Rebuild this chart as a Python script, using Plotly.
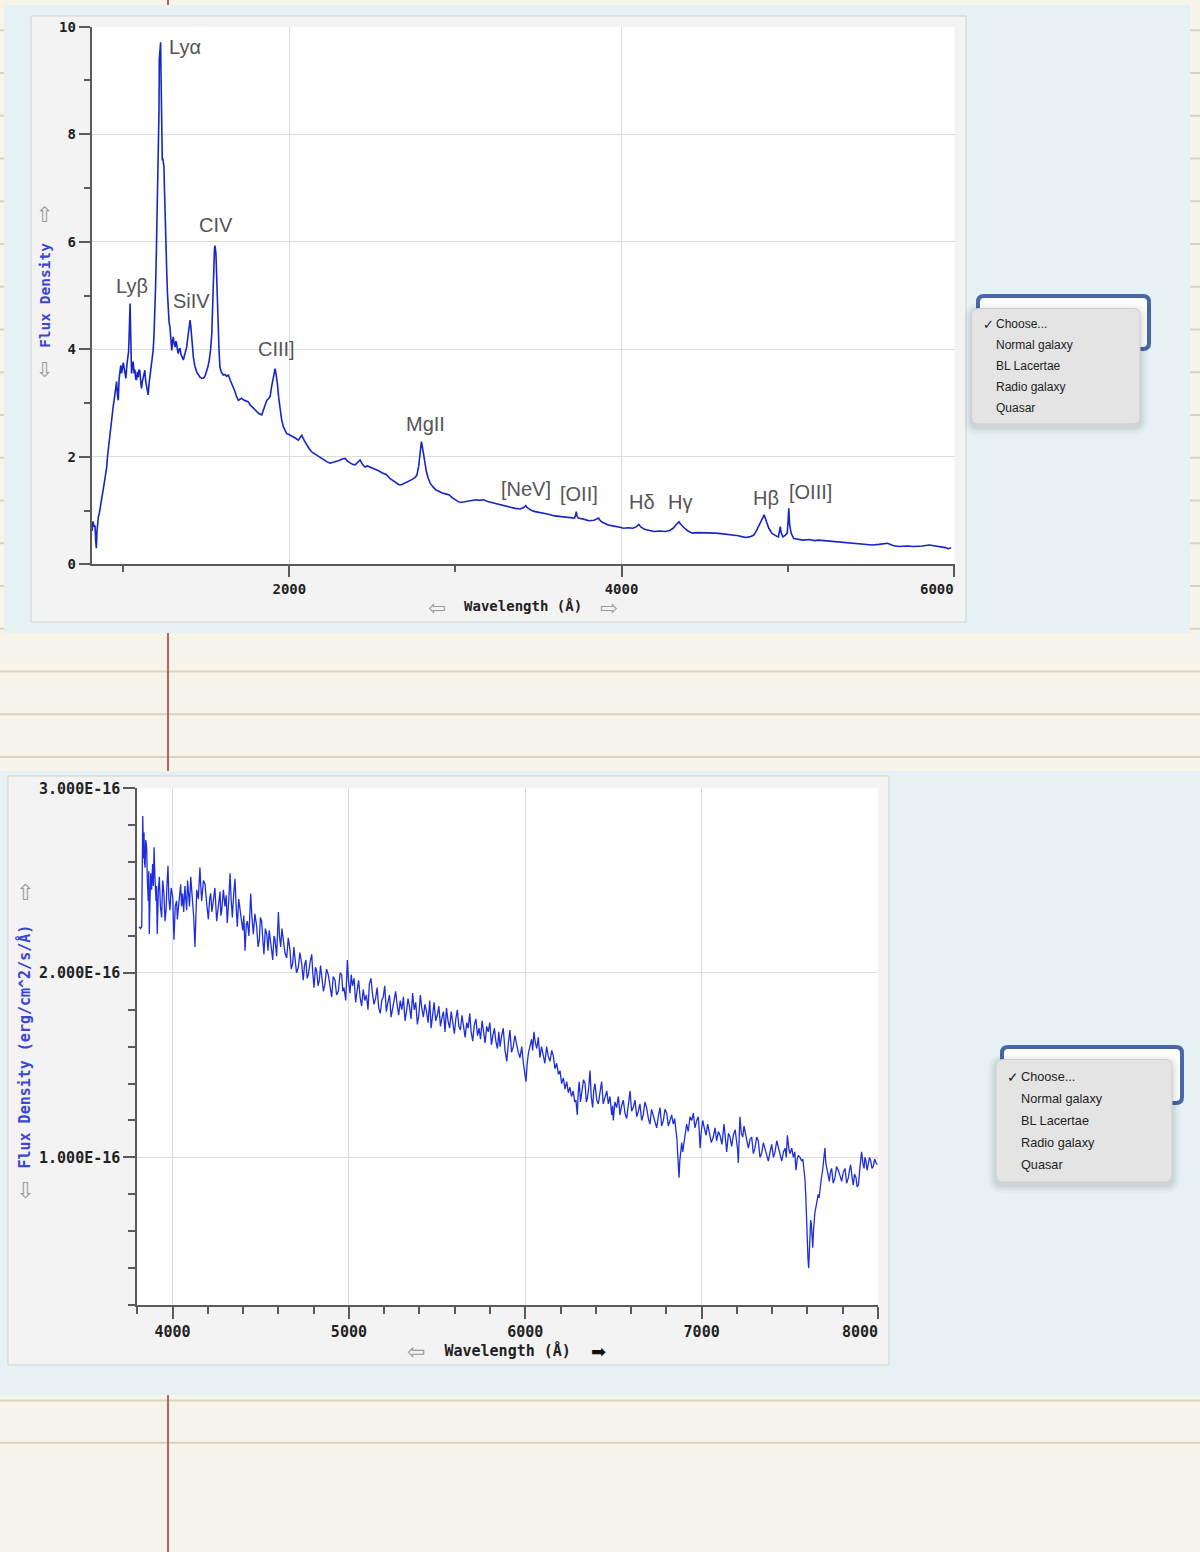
import plotly.graph_objects as go

W, H = 1200, 1552

# ---------------- data: quasar spectrum (rest frame) ----------------
wave1 = [
    812, 818, 824, 830, 834, 838, 842, 846, 850, 856,
    862, 868, 874, 880, 886, 890, 895, 900, 905, 910,
    915, 920, 925, 930, 935, 940, 945, 950, 955, 960,
    965, 970, 975, 980, 985, 990, 995, 1000, 1008, 1016,
    1022, 1028, 1032, 1036, 1039, 1041, 1044, 1047, 1050, 1055,
    1060, 1065, 1070, 1075, 1080, 1085, 1090, 1095, 1100, 1105,
    1110, 1115, 1120, 1125, 1130, 1135, 1140, 1145, 1150, 1155,
    1160, 1165, 1170, 1175, 1180, 1185, 1190, 1195, 1200, 1205,
    1209, 1212, 1215, 1217, 1219, 1222, 1225, 1227, 1229, 1231,
    1233, 1235, 1238, 1241, 1245, 1248, 1251, 1256, 1261, 1266,
    1271, 1276, 1281, 1286, 1292, 1297, 1301, 1306, 1312, 1317,
    1322, 1327, 1331, 1336, 1342, 1348, 1355, 1362, 1368, 1374,
    1382, 1388, 1394, 1399, 1402, 1406, 1412, 1417, 1422, 1430,
    1442, 1452, 1462, 1472, 1482, 1492, 1502, 1510, 1518, 1526,
    1533, 1538, 1542, 1546, 1549, 1552, 1555, 1558, 1562, 1566,
    1572, 1577, 1582, 1590, 1602, 1612, 1622, 1633, 1645, 1655,
    1663, 1672, 1682, 1693, 1703, 1713, 1723, 1733, 1743, 1753,
    1765, 1777, 1790, 1804, 1818, 1834, 1843, 1853, 1864, 1874,
    1884, 1893, 1900, 1906, 1910, 1914, 1918, 1923, 1928, 1936,
    1944, 1954, 1964, 1974, 1984, 1995, 2008, 2024, 2040, 2054,
    2064, 2075, 2090, 2105, 2120, 2135, 2150, 2165, 2185, 2205,
    2225, 2245, 2265, 2286, 2300, 2318, 2336, 2350, 2366, 2380,
    2396, 2410, 2426, 2440, 2456, 2470, 2486, 2500, 2520, 2537,
    2560, 2583, 2605, 2625, 2641, 2660, 2675, 2690, 2705, 2721,
    2740, 2756, 2768, 2779, 2787, 2791, 2795, 2799, 2804, 2809,
    2816, 2825, 2836, 2848, 2865, 2883, 2900, 2917, 2940, 2963,
    2980, 2998, 3015, 3032, 3055, 3078, 3100, 3124, 3148, 3171,
    3194, 3217, 3245, 3274, 3300, 3332, 3360, 3389, 3408, 3418,
    3424, 3430, 3440, 3459, 3480, 3500, 3528, 3560, 3597, 3630,
    3666, 3695, 3717, 3724, 3728, 3732, 3740, 3770, 3804, 3835,
    3855, 3862, 3868, 3880, 3900, 3919, 3940, 3965, 3990, 4012,
    4040, 4069, 4090, 4104, 4118, 4138, 4165, 4196, 4230, 4265,
    4290, 4311, 4330, 4340, 4346, 4355, 4368, 4380, 4400, 4426,
    4460, 4495, 4530, 4564, 4600, 4634, 4670, 4703, 4730, 4749,
    4770, 4795, 4812, 4829, 4845, 4859, 4872, 4887, 4905, 4922,
    4935, 4945, 4951, 4956, 4962, 4972, 4985, 4998, 5003, 5007,
    5012, 5021, 5037, 5060, 5094, 5130, 5160, 5187, 5220, 5260,
    5302, 5340, 5380, 5417, 5460, 5509, 5550, 5601, 5635, 5670,
    5720, 5762, 5810, 5854, 5890, 5924, 5950, 5970, 5985,
]
flux1 = [
    0.62, 0.80, 0.70, 0.72, 0.45, 0.30, 0.62, 0.80, 0.88, 0.95,
    1.05, 1.15, 1.25, 1.35, 1.52, 1.60, 1.68, 1.80, 2.00, 2.15,
    2.30, 2.45, 2.55, 2.72, 2.85, 2.95, 3.05, 3.18, 3.30, 3.40,
    3.15, 3.05, 3.45, 3.62, 3.70, 3.55, 3.72, 3.75, 3.60, 3.46,
    3.72, 3.90, 3.95, 4.30, 4.80, 4.85, 4.40, 3.80, 3.55, 3.70,
    3.77, 3.55, 3.62, 3.45, 3.43, 3.58, 3.48, 3.62, 3.60, 3.40,
    3.27, 3.40, 3.50, 3.55, 3.61, 3.40, 3.30, 3.20, 3.15, 3.35,
    3.49, 3.60, 3.75, 3.85, 3.98, 4.25, 4.60, 5.20, 5.90, 6.80,
    7.40, 7.50, 8.40, 9.40, 9.50, 9.60, 9.71, 9.20, 8.60, 8.30,
    7.90, 7.51, 7.55, 7.45, 7.40, 7.00, 6.52, 6.00, 5.53, 5.05,
    4.60, 4.50, 4.42, 4.20, 3.98, 4.15, 4.23, 4.12, 4.04, 4.15,
    4.10, 3.98, 3.92, 4.00, 4.01, 3.90, 3.84, 3.80, 3.88, 3.95,
    4.04, 4.20, 4.40, 4.52, 4.54, 4.45, 4.29, 4.05, 3.86, 3.70,
    3.58, 3.52, 3.48, 3.46, 3.46, 3.50, 3.58, 3.68, 3.80, 4.00,
    4.29, 4.80, 5.53, 5.75, 5.85, 5.93, 5.80, 5.78, 5.40, 4.91,
    4.29, 3.95, 3.67, 3.58, 3.52, 3.53, 3.50, 3.52, 3.42, 3.35,
    3.30, 3.22, 3.12, 3.05, 3.07, 3.09, 3.06, 3.05, 3.03, 3.02,
    2.96, 2.92, 2.88, 2.84, 2.80, 2.78, 2.87, 2.97, 3.05, 3.08,
    3.12, 3.30, 3.43, 3.55, 3.62, 3.64, 3.58, 3.48, 3.36, 3.10,
    2.87, 2.68, 2.56, 2.49, 2.43, 2.42, 2.40, 2.37, 2.34, 2.31,
    2.35, 2.40, 2.30, 2.22, 2.15, 2.09, 2.06, 2.03, 1.98, 1.94,
    1.91, 1.88, 1.90, 1.91, 1.93, 1.96, 1.97, 1.92, 1.88, 1.86,
    1.85, 1.90, 1.94, 1.86, 1.81, 1.83, 1.81, 1.79, 1.76, 1.74,
    1.70, 1.67, 1.60, 1.55, 1.51, 1.48, 1.48, 1.50, 1.52, 1.54,
    1.58, 1.61, 1.66, 1.83, 2.05, 2.20, 2.28, 2.22, 2.12, 2.02,
    1.85, 1.73, 1.60, 1.51, 1.44, 1.38, 1.36, 1.33, 1.31, 1.29,
    1.24, 1.20, 1.17, 1.15, 1.16, 1.17, 1.19, 1.20, 1.19, 1.20,
    1.17, 1.15, 1.13, 1.11, 1.09, 1.06, 1.04, 1.03, 1.05, 1.08,
    1.09, 1.06, 1.04, 1.00, 0.98, 0.97, 0.95, 0.93, 0.90, 0.89,
    0.88, 0.87, 0.86, 0.92, 0.98, 0.90, 0.86, 0.84, 0.81, 0.82,
    0.84, 0.86, 0.83, 0.79, 0.76, 0.73, 0.72, 0.71, 0.69, 0.67,
    0.68, 0.67, 0.70, 0.74, 0.69, 0.65, 0.63, 0.61, 0.62, 0.61,
    0.63, 0.67, 0.74, 0.78, 0.79, 0.75, 0.70, 0.67, 0.62, 0.58,
    0.59, 0.59, 0.58, 0.58, 0.57, 0.56, 0.55, 0.53, 0.51, 0.50,
    0.51, 0.54, 0.62, 0.73, 0.85, 0.92, 0.80, 0.67, 0.58, 0.54,
    0.52, 0.51, 0.60, 0.70, 0.58, 0.51, 0.54, 0.58, 0.80, 1.04,
    0.75, 0.58, 0.48, 0.47, 0.45, 0.46, 0.44, 0.45, 0.44, 0.43,
    0.42, 0.41, 0.40, 0.39, 0.38, 0.36, 0.37, 0.39, 0.35, 0.33,
    0.34, 0.33, 0.34, 0.36, 0.34, 0.33, 0.31, 0.29, 0.31,
]

# emission line labels (label anchor in data units)
line_names = ["Lyα", "Lyβ", "SiIV", "CIV", "CIII]", "MgII",
              "[NeV]", "[OII]", "Hδ", "Hγ", "Hβ", "[OIII]"]
line_label_wave = [1372, 1052, 1408, 1558, 1920, 2818,
                   3423, 3745, 4125, 4350, 4868, 5138]
line_label_flux = [9.62, 5.17, 4.89, 6.31, 4.00, 2.61,
                   1.40, 1.30, 1.15, 1.16, 1.24, 1.35]

# ---------------- data: observed-frame spectrum ----------------
FLUX2_UNIT = 1e-16
wave2 = [
    3811, 3818, 3825, 3828, 3831, 3835, 3838, 3841, 3844, 3848,
    3853, 3857, 3862, 3865, 3868, 3872, 3876, 3881, 3887, 3891,
    3895, 3900, 3906, 3909, 3913, 3919, 3925, 3931, 3938, 3944,
    3951, 3957, 3963, 3968, 3974, 3979, 3985, 3992, 4001, 4004,
    4008, 4015, 4023, 4027, 4032, 4039, 4046, 4051, 4057, 4063,
    4070, 4075, 4080, 4085, 4089, 4096, 4103, 4108, 4114, 4120,
    4127, 4132, 4137, 4146, 4155, 4160, 4165, 4175, 4184, 4194,
    4203, 4210, 4216, 4223, 4231, 4240, 4250, 4260, 4269, 4274,
    4279, 4288, 4297, 4304, 4310, 4318, 4326, 4332, 4339, 4346,
    4354, 4360, 4367, 4375, 4382, 4390, 4398, 4404, 4411, 4418,
    4424, 4433, 4443, 4450, 4458, 4467, 4477, 4485, 4492, 4498,
    4505, 4511, 4518, 4526, 4534, 4541, 4548, 4558, 4568, 4575,
    4581, 4590, 4600, 4606, 4613, 4620, 4628, 4637, 4647, 4656,
    4666, 4673, 4681, 4688, 4694, 4703, 4713, 4722, 4732, 4736,
    4741, 4748, 4756, 4763, 4770, 4780, 4789, 4795, 4802, 4810,
    4817, 4825, 4832, 4839, 4846, 4855, 4864, 4873, 4883, 4892,
    4902, 4911, 4921, 4930, 4940, 4950, 4959, 4965, 4972, 4982,
    4991, 4998, 5006, 5013, 5020, 5029, 5038, 5046, 5055, 5063,
    5072, 5081, 5090, 5099, 5108, 5116, 5125, 5133, 5142, 5151,
    5160, 5169, 5178, 5186, 5195, 5203, 5212, 5221, 5230, 5239,
    5248, 5256, 5265, 5273, 5282, 5291, 5300, 5309, 5318, 5326,
    5335, 5343, 5352, 5361, 5370, 5379, 5388, 5396, 5405, 5413,
    5422, 5431, 5440, 5449, 5458, 5466, 5475, 5483, 5492, 5501,
    5510, 5519, 5528, 5536, 5545, 5553, 5562, 5571, 5580, 5589,
    5598, 5606, 5615, 5623, 5632, 5641, 5650, 5659, 5668, 5676,
    5685, 5693, 5702, 5711, 5720, 5729, 5738, 5746, 5755, 5763,
    5772, 5781, 5790, 5799, 5808, 5816, 5825, 5833, 5842, 5850,
    5857, 5866, 5875, 5885, 5895, 5904, 5913, 5922, 5932, 5941,
    5951, 5960, 5970, 5980, 5989, 5996, 6004, 6010, 6017, 6026,
    6036, 6042, 6049, 6057, 6065, 6074, 6083, 6092, 6102, 6111,
    6121, 6130, 6140, 6150, 6159, 6168, 6178, 6188, 6197, 6206,
    6216, 6225, 6235, 6244, 6253, 6262, 6272, 6280, 6287, 6291,
    6295, 6300, 6306, 6313, 6320, 6330, 6339, 6346, 6352, 6360,
    6367, 6374, 6382, 6388, 6395, 6405, 6414, 6424, 6433, 6442,
    6452, 6462, 6471, 6480, 6490, 6495, 6499, 6508, 6518, 6528,
    6537, 6546, 6556, 6565, 6575, 6584, 6594, 6603, 6612, 6622,
    6632, 6641, 6650, 6660, 6669, 6678, 6688, 6698, 6707, 6716,
    6726, 6736, 6745, 6754, 6764, 6773, 6783, 6792, 6802, 6811,
    6820, 6830, 6839, 6847, 6855, 6860, 6864, 6868, 6872, 6876,
    6881, 6887, 6893, 6900, 6906, 6915, 6924, 6934, 6944, 6953,
    6962, 6972, 6981, 6986, 6991, 6998, 7006, 7015, 7025, 7034,
    7043, 7055, 7066, 7076, 7085, 7095, 7104, 7115, 7127, 7135,
    7142, 7152, 7161, 7170, 7180, 7190, 7199, 7204, 7208, 7213,
    7217, 7225, 7233, 7240, 7246, 7256, 7265, 7275, 7284, 7293,
    7302, 7312, 7321, 7331, 7340, 7350, 7359, 7369, 7378, 7388,
    7397, 7407, 7416, 7426, 7435, 7445, 7454, 7464, 7473, 7480,
    7486, 7494, 7501, 7511, 7520, 7528, 7535, 7542, 7548, 7558,
    7567, 7574, 7580, 7586, 7591, 7595, 7599, 7603, 7607, 7611,
    7614, 7618, 7622, 7626, 7630, 7634, 7637, 7642, 7648, 7655,
    7661, 7666, 7671, 7678, 7686, 7692, 7699, 7704, 7709, 7716,
    7724, 7730, 7737, 7746, 7756, 7765, 7775, 7785, 7794, 7803,
    7813, 7822, 7832, 7838, 7845, 7852, 7860, 7867, 7875, 7882,
    7889, 7898, 7907, 7914, 7921, 7926, 7932, 7938, 7945, 7952,
    7959, 7966, 7973, 7981, 7989, 7996,
]
flux2 = [
    2.25, 2.24, 2.25, 2.50, 2.85, 2.62, 2.76, 2.60, 2.57, 2.72,
    2.68, 2.50, 2.39, 2.55, 2.21, 2.40, 2.54, 2.45, 2.59, 2.47,
    2.68, 2.52, 2.39, 2.47, 2.21, 2.44, 2.52, 2.36, 2.30, 2.50,
    2.43, 2.28, 2.34, 2.47, 2.58, 2.40, 2.34, 2.46, 2.41, 2.30,
    2.18, 2.36, 2.39, 2.29, 2.34, 2.45, 2.48, 2.36, 2.43, 2.33,
    2.47, 2.40, 2.34, 2.50, 2.44, 2.36, 2.52, 2.45, 2.39, 2.30,
    2.14, 2.33, 2.45, 2.40, 2.57, 2.47, 2.39, 2.50, 2.48, 2.37,
    2.29, 2.40, 2.43, 2.33, 2.39, 2.46, 2.28, 2.38, 2.44, 2.31,
    2.34, 2.45, 2.36, 2.42, 2.27, 2.38, 2.54, 2.40, 2.30, 2.42,
    2.51, 2.37, 2.25, 2.40, 2.34, 2.27, 2.23, 2.31, 2.12, 2.26,
    2.28, 2.20, 2.43, 2.30, 2.21, 2.32, 2.25, 2.14, 2.18, 2.30,
    2.28, 2.19, 2.10, 2.24, 2.21, 2.12, 2.23, 2.15, 2.07, 2.20,
    2.18, 2.09, 2.33, 2.20, 2.14, 2.24, 2.18, 2.11, 2.08, 2.19,
    2.12, 2.02, 2.05, 2.14, 2.08, 2.00, 2.03, 2.11, 2.05, 2.00,
    1.96, 2.04, 2.07, 1.97, 1.99, 2.06, 2.10, 2.00, 1.92, 2.03,
    2.01, 1.93, 1.96, 2.04, 1.99, 1.90, 1.94, 2.02, 1.99, 1.92,
    1.87, 1.98, 1.96, 1.88, 1.90, 2.00, 1.99, 1.90, 1.92, 1.85,
    2.07, 1.95, 1.89, 1.99, 1.93, 1.97, 1.84, 1.90, 1.96, 1.87,
    1.82, 1.91, 1.85, 1.88, 1.80, 1.94, 1.97, 1.89, 1.83, 1.86,
    1.92, 1.81, 1.78, 1.85, 1.87, 1.93, 1.79, 1.84, 1.88, 1.76,
    1.81, 1.86, 1.90, 1.83, 1.77, 1.85, 1.80, 1.87, 1.74, 1.79,
    1.86, 1.82, 1.75, 1.89, 1.80, 1.84, 1.72, 1.77, 1.88, 1.81,
    1.76, 1.83, 1.79, 1.73, 1.85, 1.70, 1.78, 1.84, 1.74, 1.77,
    1.82, 1.71, 1.76, 1.79, 1.68, 1.81, 1.74, 1.70, 1.79, 1.73,
    1.67, 1.75, 1.80, 1.71, 1.69, 1.77, 1.72, 1.65, 1.73, 1.70,
    1.78, 1.68, 1.63, 1.72, 1.75, 1.66, 1.70, 1.64, 1.74, 1.67,
    1.62, 1.71, 1.68, 1.73, 1.61, 1.66, 1.70, 1.63, 1.59, 1.68,
    1.60, 1.66, 1.70, 1.58, 1.52, 1.62, 1.69, 1.57, 1.60, 1.66,
    1.61, 1.57, 1.54, 1.60, 1.51, 1.47, 1.41, 1.50, 1.56, 1.60,
    1.64, 1.58, 1.68, 1.62, 1.59, 1.65, 1.54, 1.60, 1.56, 1.51,
    1.60, 1.55, 1.52, 1.58, 1.55, 1.48, 1.51, 1.45, 1.47, 1.40,
    1.43, 1.37, 1.41, 1.35, 1.38, 1.33, 1.36, 1.30, 1.31, 1.26,
    1.23, 1.35, 1.41, 1.30, 1.34, 1.42, 1.40, 1.30, 1.32, 1.38,
    1.47, 1.33, 1.27, 1.36, 1.40, 1.31, 1.29, 1.37, 1.41, 1.29,
    1.32, 1.36, 1.29, 1.33, 1.23, 1.28, 1.20, 1.30, 1.27, 1.33,
    1.23, 1.28, 1.31, 1.24, 1.21, 1.30, 1.36, 1.25, 1.27, 1.31,
    1.22, 1.25, 1.29, 1.20, 1.23, 1.30, 1.27, 1.21, 1.18, 1.26,
    1.23, 1.19, 1.16, 1.22, 1.27, 1.17, 1.20, 1.26, 1.24, 1.17,
    1.20, 1.23, 1.18, 1.21, 1.14, 1.10, 1.02, 0.95, 0.89, 0.98,
    1.05, 1.08, 1.03, 1.10, 1.12, 1.18, 1.14, 1.22, 1.20, 1.24,
    1.16, 1.20, 1.22, 1.15, 1.05, 1.14, 1.20, 1.16, 1.12, 1.18,
    1.14, 1.08, 1.11, 1.16, 1.09, 1.14, 1.12, 1.07, 1.18, 1.10,
    1.03, 1.13, 1.11, 1.06, 1.12, 1.15, 1.09, 1.04, 0.97, 1.10,
    1.22, 1.13, 1.11, 1.17, 1.14, 1.09, 1.05, 1.10, 1.11, 1.02,
    1.05, 1.11, 1.09, 1.00, 1.02, 1.08, 1.05, 1.01, 0.98, 1.03,
    1.07, 1.00, 1.03, 1.09, 1.05, 1.01, 0.98, 1.03, 1.05, 1.00,
    1.12, 1.05, 1.02, 1.05, 1.00, 1.03, 0.93, 0.99, 1.01, 1.00,
    0.98, 0.99, 0.94, 0.88, 0.78, 0.62, 0.51, 0.45, 0.40, 0.50,
    0.58, 0.66, 0.64, 0.58, 0.51, 0.60, 0.65, 0.70, 0.73, 0.76,
    0.80, 0.78, 0.83, 0.88, 0.93, 0.98, 1.05, 0.97, 0.94, 0.90,
    0.87, 0.92, 0.94, 0.86, 0.89, 0.95, 0.93, 0.90, 0.87, 0.92,
    0.94, 0.86, 0.89, 0.93, 0.96, 0.90, 0.85, 0.91, 0.89, 0.84,
    0.85, 0.95, 1.03, 0.97, 0.94, 1.00, 0.98, 0.93, 0.96, 1.00,
    0.98, 0.94, 0.95, 0.99, 0.97, 0.96,
]

# ---------------- axis ticks ----------------
x1_tickvals = [2000, 4000, 6000]
x1_ticktext = ["2000", "4000", "6000"]
x1_minor = [1000, 3000, 5000]
y1_tickvals = [0, 2, 4, 6, 8, 10]
y1_ticktext = ["0", "2", "4", "6", "8", "10"]
y1_minor = [1, 3, 5, 7, 9]

x2_tickvals = [4000, 5000, 6000, 7000, 8000]
x2_ticktext = ["4000", "5000", "6000", "7000", "8000"]
x2_minor = [3800, 4200, 4400, 4600, 4800, 5200, 5400, 5600, 5800,
            6200, 6400, 6600, 6800, 7200, 7400, 7600, 7800]
y2_tickvals = [1e-16, 2e-16, 3e-16]
y2_ticktext = ["1.000E-16", "2.000E-16", "3.000E-16"]
y2_minor = [0.2e-16, 0.4e-16, 0.6e-16, 0.8e-16, 1.2e-16, 1.4e-16, 1.6e-16,
            1.8e-16, 2.2e-16, 2.4e-16, 2.6e-16, 2.8e-16]

menu_items = ["Choose...", "Normal galaxy", "BL Lacertae", "Radio galaxy", "Quasar"]


# ---------------- helpers ----------------
def PX(x):
    return x / W


def PY(y):
    return 1 - y / H


def rrect_path(x0, y0, x1, y1, r):
    pts = [
        ("M", [(x0 + r, y0)]), ("L", [(x1 - r, y0)]), ("Q", [(x1, y0), (x1, y0 + r)]),
        ("L", [(x1, y1 - r)]), ("Q", [(x1, y1), (x1 - r, y1)]),
        ("L", [(x0 + r, y1)]), ("Q", [(x0, y1), (x0, y1 - r)]),
        ("L", [(x0, y0 + r)]), ("Q", [(x0, y0), (x0 + r, y0)]),
    ]
    s = ""
    for cmd, ps in pts:
        s += cmd + " " + " ".join(f"{PX(a):.6f},{PY(b):.6f}" for a, b in ps) + " "
    return s + "Z"


def rect(x0, y0, x1, y1, fill, line=None, lw=0):
    return dict(type="rect", xref="paper", yref="paper", x0=PX(x0), x1=PX(x1),
                y0=PY(y1), y1=PY(y0), fillcolor=fill, layer="below",
                line=dict(width=lw, color=line or "rgba(0,0,0,0)"))


shapes = []
# notebook ruled lines
ruled = [757 - 42.75 * k for k in range(0, 18)] + [1400.5, 1442.7]
for y in ruled:
    if y > 0:
        shapes.append(dict(type="line", xref="paper", yref="paper", x0=0, x1=1,
                           y0=PY(y), y1=PY(y), layer="below",
                           line=dict(color="#D8D4C3", width=2)))
# red margin line
shapes.append(dict(type="line", xref="paper", yref="paper", x0=PX(168), x1=PX(168),
                   y0=0, y1=1, layer="below", line=dict(color="#A53535", width=1.5)))
# light blue panels
shapes.append(rect(4, 5, 1190, 633, "#E6F1F4"))
shapes.append(rect(0, 771, 1200, 1395, "#E6F1F4"))
# chart frames
shapes.append(rect(31, 16, 966, 622, "#F3F3F3", "#D2D2D2", 1))
shapes.append(rect(8, 776, 889, 1365, "#F3F3F3", "#D2D2D2", 1))
# plot areas
P1 = (91.7, 26.7, 954.5, 564.3)
P2 = (137.3, 788.3, 878.0, 1305.0)
shapes.append(rect(P1[0], P1[1], P1[2], P1[3], "#FFFFFF"))
shapes.append(rect(P2[0], P2[1], P2[2], P2[3], "#FFFFFF"))


def dropdown(box, menu, r_box=6, r_menu=7):
    out = []
    bx0, by0, bx1, by1 = box
    out.append(dict(type="path", xref="paper", yref="paper", layer="above",
                    path=rrect_path(bx0, by0, bx1, by1, r_box), fillcolor="#FFFFFF",
                    line=dict(color="#4767A8", width=4)))
    mx0, my0, mx1, my1 = menu
    for i, a in enumerate([0.035, 0.03, 0.025, 0.02]):
        g = 2 + i * 2
        out.append(dict(type="path", xref="paper", yref="paper", layer="above",
                        path=rrect_path(mx0 - g, my0 - g + 3, mx1 + g, my1 + g + 3, r_menu + g),
                        fillcolor=f"rgba(0,0,0,{a})", line=dict(width=0)))
    out.append(dict(type="path", xref="paper", yref="paper", layer="above",
                    path=rrect_path(mx0, my0, mx1, my1, r_menu), fillcolor="#E4E4E4",
                    line=dict(color="#CFCFCF", width=1)))
    return out


shapes += dropdown((978, 296, 1149, 349), (971.5, 308.5, 1140, 424))
shapes += dropdown((1002, 1047, 1182, 1103), (996, 1059.5, 1172, 1182))

annotations = []
# emission line labels
for name, wx, fy in zip(line_names, line_label_wave, line_label_flux):
    annotations.append(dict(x=wx, y=fy, xref="x", yref="y", text=name, showarrow=False,
                            font=dict(family="Liberation Sans, Arial, sans-serif", size=20,
                                      color="#555555")))


def glyph(x, y, t, color="#9A9A9A", size=21):
    return dict(x=PX(x), y=PY(y), xref="paper", yref="paper", text=t, showarrow=False,
                xanchor="center", yanchor="middle",
                font=dict(family="DejaVu Sans", size=size, color=color))


annotations += [
    glyph(45, 215, "⇧"), glyph(45, 370, "⇩"),
    glyph(437, 608, "⇦"), glyph(609, 608, "⇨"),
    glyph(25, 893, "⇧", size=22), glyph(25, 1190, "⇩", size=22),
    glyph(416, 1351, "⇦", size=22), glyph(598, 1351, "➡", color="#111111", size=18),
]


def menu_text(x_check, x_text, y0, dy, size):
    out = []
    for i, item in enumerate(menu_items):
        y = y0 + i * dy
        out.append(dict(x=PX(x_text), y=PY(y), xref="paper", yref="paper", text=item,
                        showarrow=False, xanchor="left", yanchor="middle",
                        font=dict(family="Liberation Sans, Arial, sans-serif", size=size,
                                  color="#222222")))
    out.append(dict(x=PX(x_check), y=PY(y0), xref="paper", yref="paper", text="✓",
                    showarrow=False, xanchor="left", yanchor="middle",
                    font=dict(family="DejaVu Sans", size=size + 1, color="#222222")))
    return out


annotations += menu_text(981, 994, 324, 21, 12)
annotations += menu_text(1005, 1019, 1077, 22, 12.7)

fig = go.Figure()
fig.add_trace(go.Scatter(x=wave1, y=flux1, mode="lines", xaxis="x", yaxis="y",
                         line=dict(color="#1626C4", width=1.6), hoverinfo="skip",
                         showlegend=False))
fig.add_trace(go.Scatter(x=wave2, y=[v * FLUX2_UNIT for v in flux2], mode="lines",
                         xaxis="x2", yaxis="y2",
                         line=dict(color="#1E2EDC", width=1.3), hoverinfo="skip",
                         showlegend=False))

AX = "#5A5A5A"
GRID = "#DCDCDC"
MONO = "DejaVu Sans Mono"
TICKFONT1 = dict(family=MONO, size=14, color="#222222", weight="bold")
TICKFONT2 = dict(family=MONO, size=15, color="#222222", weight="bold")


def axis_common(tickvals, ticktext, minor_vals, font, major_len=11, minor_len=6):
    return dict(
        tickmode="array", tickvals=tickvals, ticktext=ticktext,
        ticks="outside", ticklen=major_len, tickwidth=1.5, tickcolor=AX,
        showline=True, linecolor=AX, linewidth=2,
        showgrid=True, gridcolor=GRID, gridwidth=1, zeroline=False,
        tickfont=font, automargin=False, fixedrange=True,
        minor=dict(tickmode="array", tickvals=minor_vals, ticks="outside",
                   ticklen=minor_len, tickwidth=1.5, tickcolor=AX, showgrid=False),
    )


x1_text = x1_ticktext[:-1] + [x1_ticktext[-1] + "\u00a0" * 4]
x2_text = x2_ticktext[:-1] + [x2_ticktext[-1] + "\u00a0" * 4]

xaxis1 = axis_common(x1_tickvals, x1_text, x1_minor, TICKFONT1)
xaxis1.update(domain=[PX(P1[0]), PX(P1[2])], range=[810, 6005], anchor="y",
              title=dict(text="Wavelength (Å)", standoff=5,
                         font=dict(family=MONO, size=14, color="#222222", weight="bold")))
yaxis1 = axis_common(y1_tickvals, y1_ticktext, y1_minor, TICKFONT1)
yaxis1.update(domain=[PY(P1[3]), PY(P1[1])], range=[0, 10], anchor="x",
              title=dict(text="Flux Density", standoff=5,
                         font=dict(family=MONO, size=14.5, color="#3C46D0", weight="bold")))

xaxis2 = axis_common(x2_tickvals, x2_text, x2_minor, TICKFONT2, 12, 7)
xaxis2.update(domain=[PX(P2[0]), PX(P2[2])], range=[3800, 8000], anchor="y2",
              title=dict(text="Wavelength (Å)", standoff=5,
                         font=dict(family=MONO, size=15, color="#222222", weight="bold")))
yaxis2 = axis_common(y2_tickvals, y2_ticktext, y2_minor, TICKFONT2, 12, 7)
yaxis2.update(domain=[PY(P2[3]), PY(P2[1])], range=[0.2e-16, 3.0e-16], anchor="x2",
              title=dict(text="Flux Density (erg/cm^2/s/Å)", standoff=5,
                         font=dict(family=MONO, size=15, color="#3C46D0", weight="bold")))

fig.update_layout(
    width=W, height=H, margin=dict(l=0, r=0, t=0, b=0, pad=0),
    paper_bgcolor="#F7F4E9", plot_bgcolor="rgba(0,0,0,0)",
    showlegend=False, hovermode=False,
    xaxis=xaxis1, yaxis=yaxis1, xaxis2=xaxis2, yaxis2=yaxis2,
    shapes=shapes, annotations=annotations,
)

fig.write_html("out.html", include_plotlyjs=True, config={"displayModeBar": False})
